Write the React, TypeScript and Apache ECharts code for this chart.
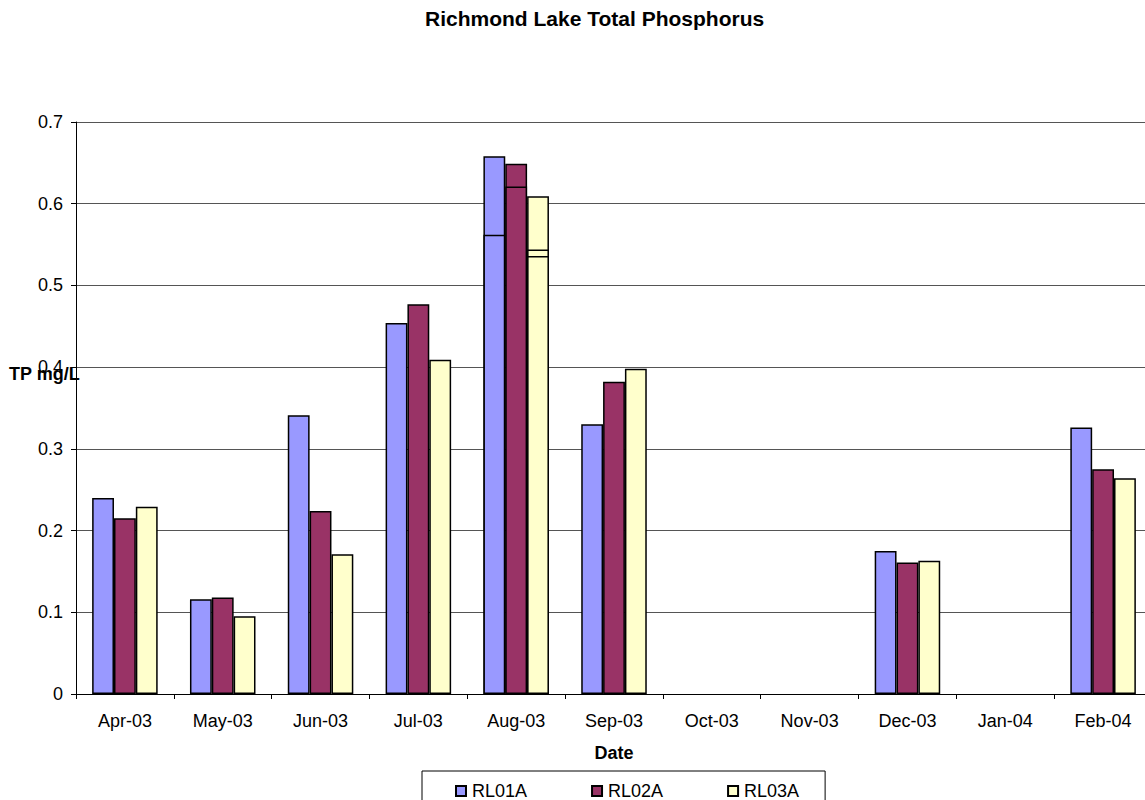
import React, { useEffect, useRef } from "react";
import * as echarts from "echarts";

const categories = ["Apr-03", "May-03", "Jun-03", "Jul-03", "Aug-03", "Sep-03", "Oct-03", "Nov-03", "Dec-03", "Jan-04", "Feb-04"];
const stations = ["RL01A", "RL02A", "RL03A"];
const colors = ["#9999FF", "#993366", "#FFFFCC"];

// first sample of each month
const rl01a = [0.240, 0.116, 0.341, 0.454, 0.658, 0.330, null, null, 0.175, null, 0.326];
const rl02a = [0.215, 0.118, 0.224, 0.477, 0.649, 0.382, null, null, 0.161, null, 0.275];
const rl03a = [0.229, 0.095, 0.171, 0.409, 0.609, 0.398, null, null, 0.163, null, 0.264];
// second samples (drawn over the first)
const rl01aB = [null, null, null, null, 0.562, null, null, null, null, null, null];
const rl02aB = [null, null, null, null, 0.621, null, null, null, null, null, null];
const rl03aB = [null, null, null, null, 0.544, null, null, null, null, null, null];
// third samples
const rl03aC = [null, null, null, null, 0.536, null, null, null, null, null, null];
const emptyRow = [null, null, null, null, null, null, null, null, null, null, null];

const FONT = "'Liberation Sans', Arial, sans-serif";

export default function App() {
  const ref = useRef<HTMLDivElement>(null);
  useEffect(() => {
    if (!ref.current) return;
    const chart = echarts.init(ref.current, null, { renderer: "svg" });
    const layers = [
      [rl01a, rl02a, rl03a],
      [rl01aB, rl02aB, rl03aB],
      [emptyRow, emptyRow, rl03aC],
    ];
    const series: any[] = [];
    layers.forEach((layer, li) => {
      layer.forEach((vals, si) => {
        series.push({
          type: "bar",
          name: stations[si],
          xAxisIndex: li,
          data: vals.map((v) => (v == null ? "-" : v)),
          barGap: "0%",
          barCategoryGap: "33%",
          itemStyle: { color: colors[si], borderColor: "#000", borderWidth: 1.5 },
          z: 2 + li,
        });
      });
    });
    const baseX = {
      type: "category",
      data: categories,
      gridIndex: 0,
    };
    chart.setOption({
      animation: false,
      textStyle: { fontFamily: FONT },
      title: {
        text: "Richmond Lake Total Phosphorus",
        left: 425,
        top: 8,
        padding: 0,
        textStyle: { fontFamily: FONT, fontSize: 21, fontWeight: "bold", color: "#000" },
      },
      grid: { left: 76, right: 0, top: 122, bottom: 106, containLabel: false },
      legend: {
        data: stations,
        left: 422,
        top: 771,
        orient: "horizontal",
        padding: [11, 26, 12, 33],
        itemWidth: 10,
        itemHeight: 10,
        itemGap: 64,
        borderColor: "#000",
        borderWidth: 1,
        icon: "rect",
        textStyle: { fontFamily: FONT, fontSize: 18, color: "#000", padding: [0, 0, 0, 1] },
      },
      xAxis: [
        {
          ...baseX,
          name: "Date",
          nameLocation: "middle",
          nameGap: 50,
          nameTextStyle: { fontFamily: FONT, fontSize: 18, fontWeight: "bold", color: "#000" },
          axisLine: { lineStyle: { color: "#000", width: 1 } },
          axisTick: { show: true, length: 5, lineStyle: { color: "#000" }, alignWithLabel: false },
          axisLabel: { fontFamily: FONT, fontSize: 18, color: "#000", margin: 18, interval: 0 },
          splitLine: { show: false },
        },
        { ...baseX, show: false },
        { ...baseX, show: false },
      ],
      yAxis: {
        type: "value",
        min: 0,
        max: 0.7,
        interval: 0.1,
        axisLine: { show: true, lineStyle: { color: "#000", width: 1 } },
        axisTick: { show: true, length: 5, lineStyle: { color: "#000" } },
        axisLabel: {
          fontFamily: FONT,
          fontSize: 18,
          color: "#000",
          margin: 13,
          formatter: (v: number) => (v === 0 ? "0" : String(Number(v.toFixed(1)))),
        },
        splitLine: { show: true, lineStyle: { color: "#555", width: 1 } },
      },
      graphic: [
        {
          type: "text",
          left: 9,
          top: 365,
          z: 10,
          style: {
            text: "TP mg/L",
            font: `bold 18px ${FONT}`,
            fill: "#000",
          },
        },
      ],
      series,
    });
    return () => chart.dispose();
  }, []);
  return (
    <div style={{ position: "fixed", top: 0, left: 0, width: 1145, height: 800, overflow: "hidden", background: "#fff" }}>
      <div ref={ref} style={{ width: 1152, height: 800 }} />
    </div>
  );
}
